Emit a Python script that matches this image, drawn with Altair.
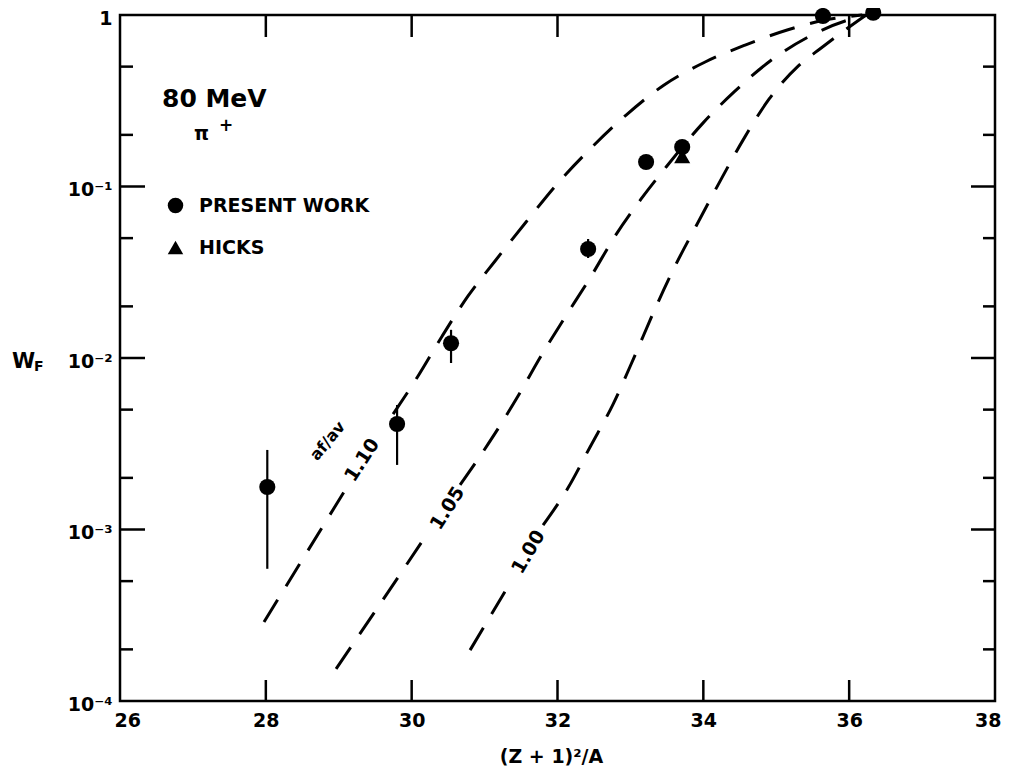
import altair as alt
import pandas as pd

# ---------------- data ----------------
# measured points (present work)
pw_x = [28.02, 29.80, 30.54, 32.42, 33.215, 33.71, 35.64, 36.33]
pw_y = [1.77e-3, 4.12e-3, 1.22e-2, 4.32e-2, 0.139, 0.170, 0.987, 1.03]
# error bars
err_x = [28.02, 29.80, 30.54, 32.42]
err_lo = [5.9e-4, 2.38e-3, 9.35e-3, 3.83e-2]
err_hi = [2.91e-3, 5.32e-3, 1.46e-2, 4.94e-2]
# Hicks
hicks_x = [33.71]
hicks_y = [0.150]

# calculated curves (af/av = 1.10, 1.05, 1.00), split around their labels
c110_lo_x = [27.975, 29.155]
c110_lo_y = [2.89e-4, 1.89e-3]
c110_hi_x = [29.745, 30.088, 30.417, 30.774, 31.144, 31.569, 31.995, 32.475,
             32.941, 33.462, 34.025, 34.573, 35.150, 35.671, 36.18]
c110_hi_y = [4.71e-3, 7.85e-3, 1.34e-2, 2.30e-2, 3.68e-2, 6.21e-2, 0.1035, 0.170,
             0.261, 0.391, 0.532, 0.668, 0.818, 0.935, 1.0]

c105_lo_x = [28.963, 29.567, 30.156]
c105_lo_y = [1.54e-4, 3.68e-4, 8.68e-4]
c105_hi_x = [30.664, 31.130, 31.459, 31.775, 32.104, 32.447, 32.790, 33.147,
             33.490, 33.997, 34.422, 34.916, 35.465, 35.986, 36.26]
c105_hi_y = [1.82e-3, 3.56e-3, 6.0e-3, 1.03e-2, 1.73e-2, 2.93e-2, 5.14e-2, 8.46e-2,
             0.130, 0.235, 0.356, 0.539, 0.755, 0.935, 1.0]

c100_lo_x = [30.801, 31.309]
c100_lo_y = [1.98e-4, 4.56e-4]
c100_hi_x = [31.802, 32.145, 32.447, 32.763, 33.064, 33.325, 33.613, 33.901,
             34.217, 34.546, 34.903, 35.300, 35.616, 35.945, 36.233]
c100_hi_y = [1.06e-3, 1.75e-3, 3.03e-3, 5.39e-3, 1.04e-2, 1.88e-2, 3.44e-2, 5.89e-2,
             0.105, 0.187, 0.324, 0.504, 0.642, 0.818, 1.0]

# axes
x_tick_vals = [26, 28, 30, 32, 34, 36, 38]
x_inner_ticks = [28, 30, 32, 34, 36]
y_tick_vals = [1e-4, 1e-3, 1e-2, 1e-1, 1]
y_tick_labels = ["10⁻⁴", "10⁻³", "10⁻²", "10⁻¹", "1"]
y_major_inner = [1e-3, 1e-2, 1e-1]
y_minor_inner = [2e-4, 5e-4, 2e-3, 5e-3, 2e-2, 5e-2, 0.2, 0.5]

# curve labels (text, x, y, angle)
lab_text = ["1.10", "1.05", "1.00", "af/av"]
lab_x = [29.32, 30.49, 31.60, 28.85]
lab_y = [2.54e-3, 1.33e-3, 7.39e-4, 3.28e-3]
lab_angle = [303, 302, 300, 310]
lab_size = [19, 19, 19, 16]

# ---------------- chart ----------------
W, H = 875, 686
FONT = "DejaVu Sans"

xs = alt.Scale(domain=[26, 38], nice=False, zero=False)
ys = alt.Scale(type="log", domain=[1e-4, 1], nice=False)

label_expr = "[" + ",".join("'%s'" % s for s in y_tick_labels) + "][round(log(datum.value)/LN10)+4]"

xax = alt.Axis(values=x_tick_vals, format="d", labelFontSize=19, labelFont=FONT,
               labelFontWeight="bold",
               tickSize=0, domain=False, grid=False, labelPadding=10,
               labelFlush=True, labelFlushOffset=6,
               title="(Z + 1)²/A", titleFontSize=19, titleFont=FONT, titleFontWeight="bold",
               titlePadding=17, labelColor="black", titleColor="black", titleX=431)
yax = alt.Axis(values=y_tick_vals, labelExpr=label_expr, labelFontSize=19, labelFont=FONT,
               labelFontWeight="bold", labelOffset=3,
               tickSize=0, domain=False, grid=False, labelPadding=8, labelFlush=False,
               title=None, labelColor="black")

rows = []
for name, segs in [("1.10", [(c110_lo_x, c110_lo_y), (c110_hi_x, c110_hi_y)]),
                   ("1.05", [(c105_lo_x, c105_lo_y), (c105_hi_x, c105_hi_y)]),
                   ("1.00", [(c100_lo_x, c100_lo_y), (c100_hi_x, c100_hi_y)])]:
    for k, (sx, sy) in enumerate(segs):
        for i, (a, b) in enumerate(zip(sx, sy)):
            rows.append({"curve": name, "seg": f"{name}-{k}", "order": i, "x": a, "y": b})
curves_df = pd.DataFrame(rows)

curves = alt.Chart(curves_df).mark_line(
    color="black", strokeWidth=3, strokeDash=[26, 16], interpolate="monotone"
).encode(
    x=alt.X("x:Q", scale=xs, axis=xax),
    y=alt.Y("y:Q", scale=ys, axis=yax),
    detail="seg:N",
    order="order:Q",
)

err_df = pd.DataFrame({"x": err_x, "lo": err_lo, "hi": err_hi})
errs = alt.Chart(err_df).mark_rule(color="black", strokeWidth=2.2).encode(
    x=alt.X("x:Q", scale=xs), y=alt.Y("lo:Q", scale=ys), y2="hi:Q"
)

pts_df = pd.DataFrame({
    "x": pw_x + hicks_x,
    "y": pw_y + hicks_y,
    "series": ["PRESENT WORK"] * len(pw_x) + ["HICKS"] * len(hicks_x),
})
pts = alt.Chart(pts_df).mark_point(filled=True, opacity=1, size=260, color="black").encode(
    x=alt.X("x:Q", scale=xs),
    y=alt.Y("y:Q", scale=ys),
    shape=alt.Shape("series:N",
                    scale=alt.Scale(domain=["PRESENT WORK", "HICKS"], range=["circle", "triangle-up"]),
                    legend=alt.Legend(title=None, orient="none", legendX=46, legendY=181,
                                      labelFontSize=19, labelFont=FONT, labelFontWeight="bold",
                                      labelColor="black", symbolSize=240, symbolFillColor="black",
                                      symbolStrokeColor="black", symbolStrokeWidth=0,
                                      rowPadding=22, labelOffset=14, padding=0, labelLimit=0)),
    order=alt.Order("series:N", sort="descending"),
)

# inward tick marks
ymaj_df = pd.DataFrame({"y": y_major_inner})
ymin_df = pd.DataFrame({"y": y_minor_inner})
xin_df = pd.DataFrame({"x": x_inner_ticks})
tick_layers = [
    alt.Chart(ymaj_df).mark_rule(color="black", strokeWidth=2.5).encode(
        y=alt.Y("y:Q", scale=ys), x=alt.value(0), x2=alt.value(25)),
    alt.Chart(ymin_df).mark_rule(color="black", strokeWidth=2.5).encode(
        y=alt.Y("y:Q", scale=ys), x=alt.value(0), x2=alt.value(13)),
    alt.Chart(ymaj_df).mark_rule(color="black", strokeWidth=2.5).encode(
        y=alt.Y("y:Q", scale=ys), x=alt.value(W - 24), x2=alt.value(W)),
    alt.Chart(ymin_df).mark_rule(color="black", strokeWidth=2.5).encode(
        y=alt.Y("y:Q", scale=ys), x=alt.value(W - 12), x2=alt.value(W)),
    alt.Chart(xin_df).mark_rule(color="black", strokeWidth=2.5).encode(
        x=alt.X("x:Q", scale=xs), y=alt.value(H - 21), y2=alt.value(H)),
    alt.Chart(xin_df).mark_rule(color="black", strokeWidth=2.5).encode(
        x=alt.X("x:Q", scale=xs), y=alt.value(0), y2=alt.value(22)),
]

# curve labels
lab_layers = []
for t, lx, ly, ang, sz in zip(lab_text, lab_x, lab_y, lab_angle, lab_size):
    d = pd.DataFrame({"x": [lx], "y": [ly], "t": [t]})
    lab_layers.append(
        alt.Chart(d).mark_text(angle=ang, fontSize=sz, font=FONT, fontWeight="bold",
                               color="black", align="center", baseline="middle").encode(
            x=alt.X("x:Q", scale=xs), y=alt.Y("y:Q", scale=ys), text="t:N"))

# free annotations
one = pd.DataFrame({"a": [0]})
def note(txt, px, py, size, weight="bold", align="left"):
    return alt.Chart(one).mark_text(text=txt, fontSize=size, font=FONT, fontWeight=weight,
                                    color="black", align=align, baseline="middle").encode(
        x=alt.value(px), y=alt.value(py))

notes = [
    note("80 MeV", 42, 84, 25),
    note("π", 74, 119, 19),
    note("+", 99, 111, 17),
    note("W", -108, 347, 21),
    note("F", -86, 352, 14),
]

chart = alt.layer(*tick_layers, curves, errs, pts, *lab_layers, *notes).properties(
    width=W, height=H,
    background="white",
    autosize=alt.AutoSizeParams(type="none"),
    padding={"left": 112, "top": 7, "right": 7, "bottom": 70},
).configure_view(stroke="black", strokeWidth=2.5)

chart.save("out.html", embed_options={"renderer": "svg", "actions": False})
